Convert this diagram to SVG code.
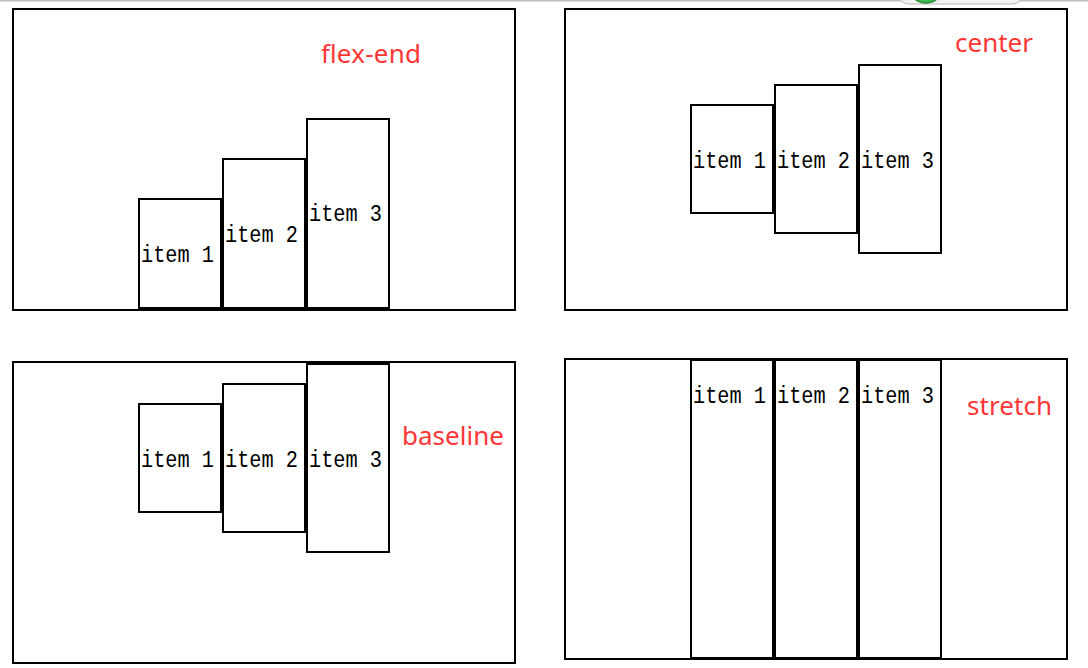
<svg xmlns="http://www.w3.org/2000/svg" width="1088" height="668" viewBox="0 0 1088 668">
  <style>
    .box { fill: #ffffff; stroke: #000000; stroke-width: 2; }
    .item { fill: #ffffff; stroke: #000000; stroke-width: 2; }
    .itxt { font-family: "Liberation Mono", "DejaVu Sans Mono", monospace; font-size: 23px; fill: #000000; }
    .lbl { font-family: "Noto Sans", "Open Sans", sans-serif; font-size: 26px; fill: #ff3636; }
  </style>
  <rect x="0" y="0" width="1088" height="668" fill="#ffffff"/>
  <g id="browser-chrome">
    <rect x="0" y="0" width="1088" height="1.5" fill="#bdbdbd"/>
    <rect x="898" y="-22" width="125" height="26" rx="11" fill="#f2f2f2" stroke="#b8b8b8" stroke-width="1"/>
    <circle cx="926" cy="-14" r="17" fill="#3dbb4f" stroke="#2b8f3a" stroke-width="1.5"/>
  </g>

  <g id="panel-flex-end">
    <rect class="box" x="13" y="9" width="502" height="301"/>
    <text class="lbl" x="321" y="63" textLength="100">flex-end</text>
    <g id="fe-item1"><rect class="item" x="139" y="199" width="82" height="109"/><text class="itxt" x="141" y="262" textLength="73" lengthAdjust="spacingAndGlyphs">item 1</text></g>
    <g id="fe-item2"><rect class="item" x="223" y="159" width="82" height="149"/><text class="itxt" x="225" y="242" textLength="73" lengthAdjust="spacingAndGlyphs">item 2</text></g>
    <g id="fe-item3"><rect class="item" x="307" y="119" width="82" height="189"/><text class="itxt" x="309" y="221" textLength="73" lengthAdjust="spacingAndGlyphs">item 3</text></g>
  </g>

  <g id="panel-center">
    <rect class="box" x="565" y="9" width="502" height="301"/>
    <text class="lbl" x="955" y="52" textLength="78">center</text>
    <g id="c-item1"><rect class="item" x="691" y="105" width="82" height="108"/><text class="itxt" x="693" y="168" textLength="73" lengthAdjust="spacingAndGlyphs">item 1</text></g>
    <g id="c-item2"><rect class="item" x="775" y="85" width="82" height="148"/><text class="itxt" x="777" y="168" textLength="73" lengthAdjust="spacingAndGlyphs">item 2</text></g>
    <g id="c-item3"><rect class="item" x="859" y="65" width="82" height="188"/><text class="itxt" x="861" y="168" textLength="73" lengthAdjust="spacingAndGlyphs">item 3</text></g>
  </g>

  <g id="panel-baseline">
    <rect class="box" x="13" y="362" width="502" height="301"/>
    <text class="lbl" x="402" y="445" textLength="102">baseline</text>
    <g id="b-item1"><rect class="item" x="139" y="404" width="82" height="108"/><text class="itxt" x="141" y="467" textLength="73" lengthAdjust="spacingAndGlyphs">item 1</text></g>
    <g id="b-item2"><rect class="item" x="223" y="384" width="82" height="148"/><text class="itxt" x="225" y="467" textLength="73" lengthAdjust="spacingAndGlyphs">item 2</text></g>
    <g id="b-item3"><rect class="item" x="307" y="364" width="82" height="188"/><text class="itxt" x="309" y="467" textLength="73" lengthAdjust="spacingAndGlyphs">item 3</text></g>
  </g>

  <g id="panel-stretch">
    <rect class="box" x="565" y="359" width="502" height="300"/>
    <text class="lbl" x="967" y="415" textLength="85">stretch</text>
    <g id="s-item1"><rect class="item" x="691" y="360" width="82" height="298"/><text class="itxt" x="693" y="403" textLength="73" lengthAdjust="spacingAndGlyphs">item 1</text></g>
    <g id="s-item2"><rect class="item" x="775" y="360" width="82" height="298"/><text class="itxt" x="777" y="403" textLength="73" lengthAdjust="spacingAndGlyphs">item 2</text></g>
    <g id="s-item3"><rect class="item" x="859" y="360" width="82" height="298"/><text class="itxt" x="861" y="403" textLength="73" lengthAdjust="spacingAndGlyphs">item 3</text></g>
  </g>
</svg>
